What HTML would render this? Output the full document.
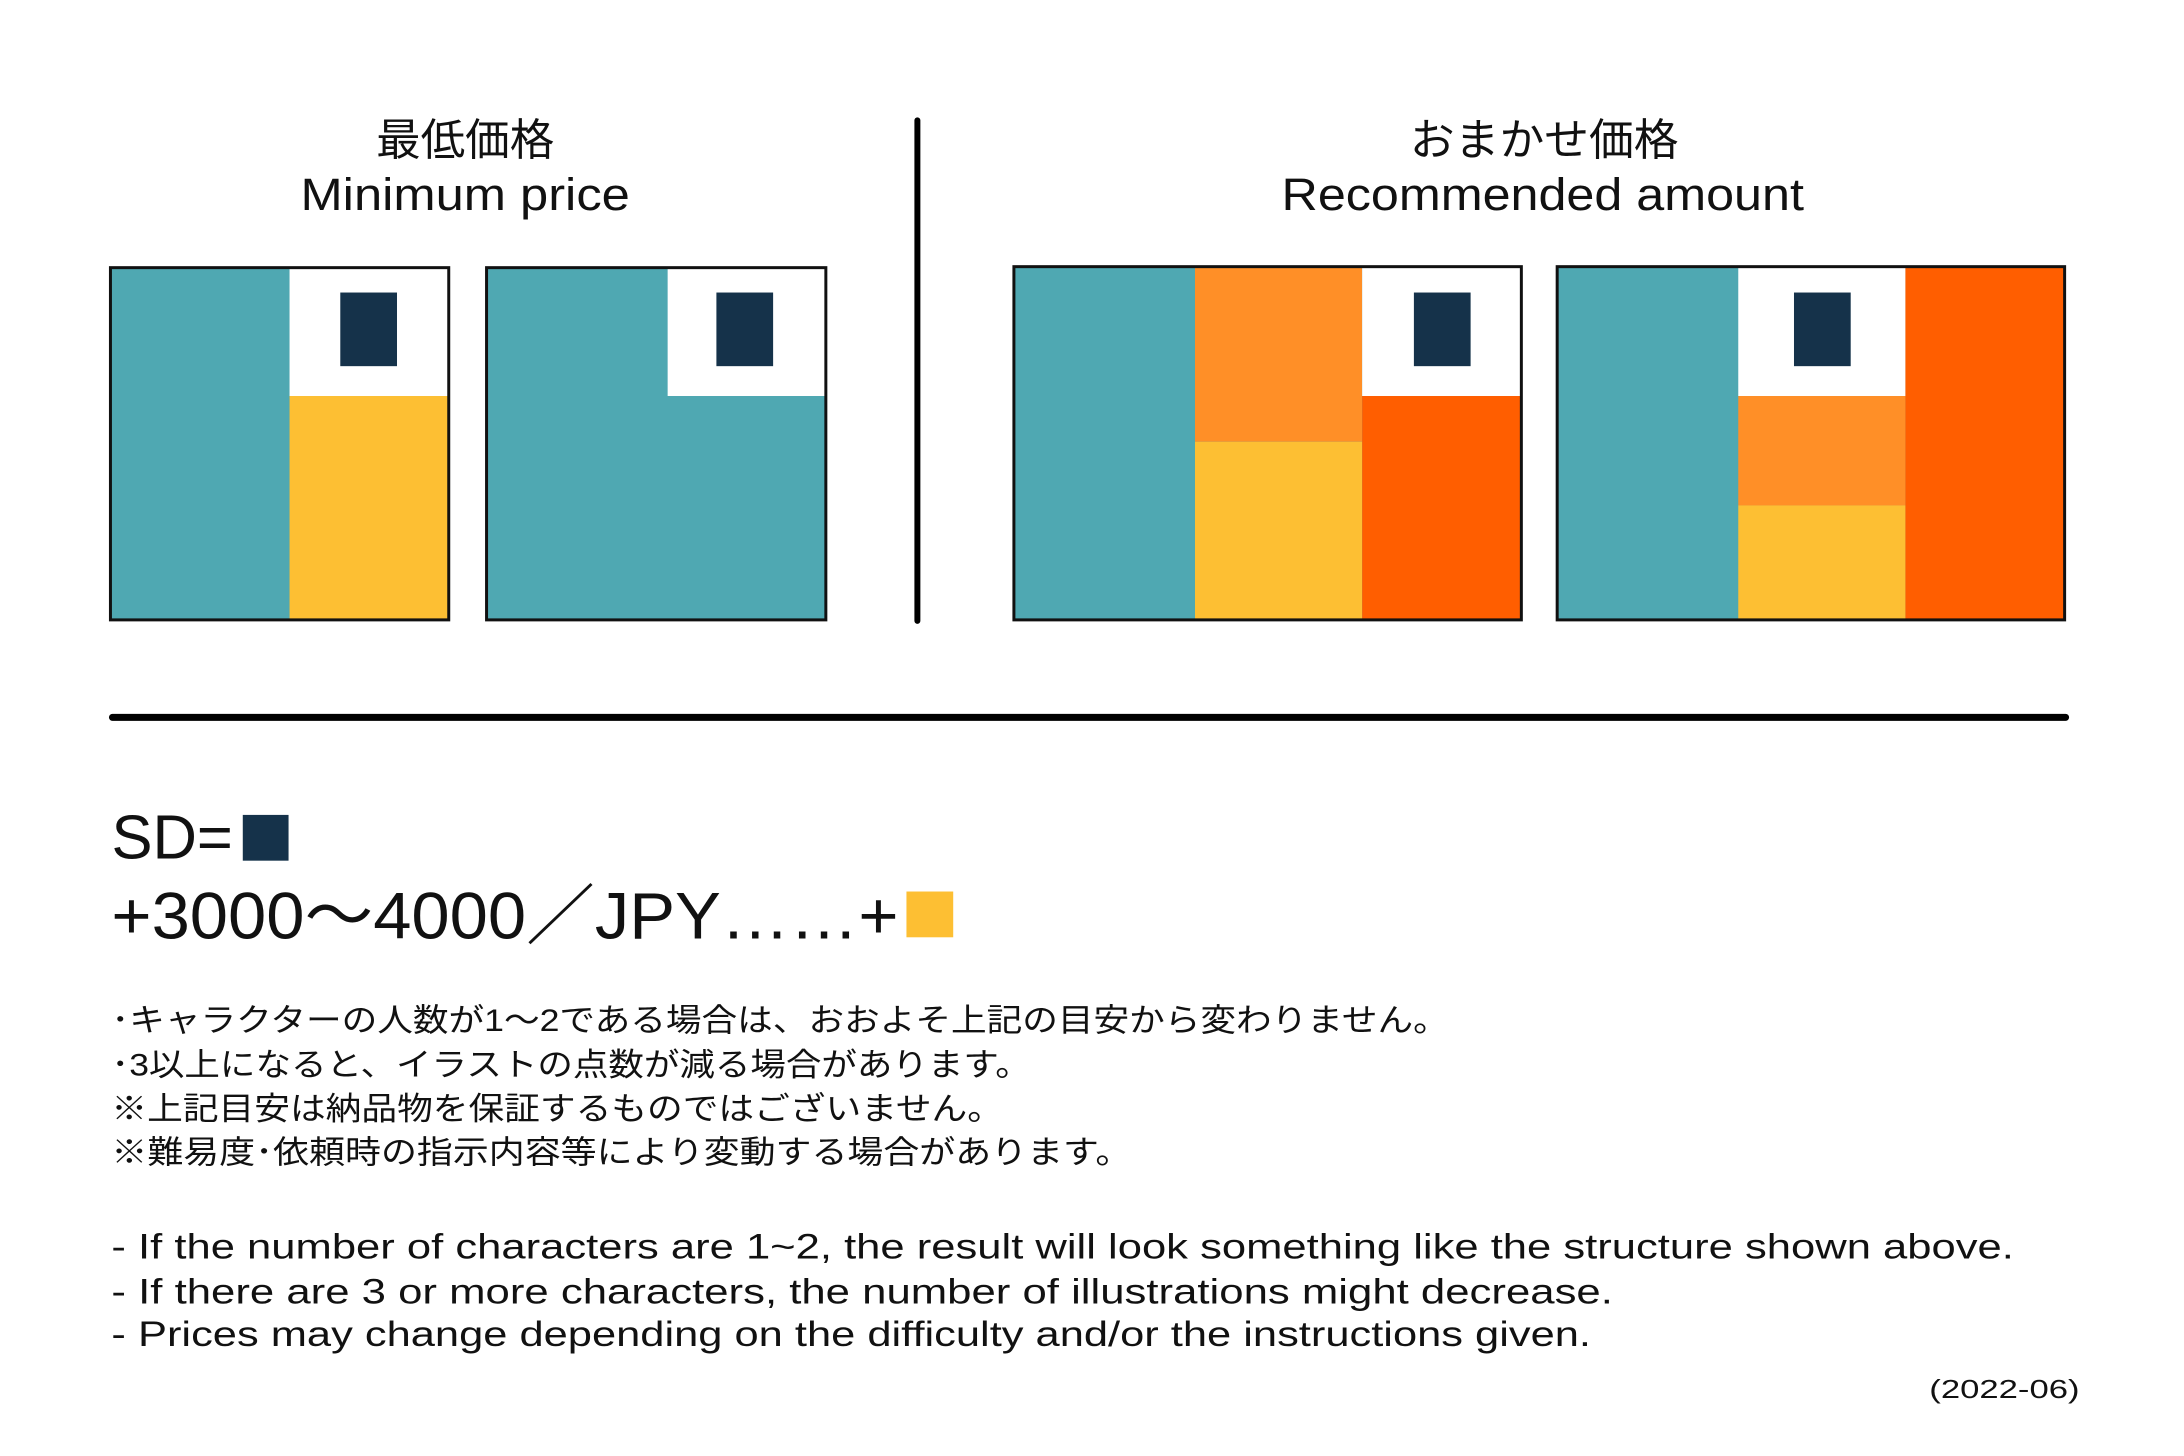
<!DOCTYPE html>
<html><head><meta charset="utf-8"><style>html,body{margin:0;padding:0;background:#fff}svg{display:block}</style></head><body>
<svg width="2184" height="1456" viewBox="0 0 2184 1456" xmlns="http://www.w3.org/2000/svg" font-family="'Liberation Sans','Noto Sans CJK JP',sans-serif" fill="#111">
<rect width="2184" height="1456" fill="#fff"/>
<g transform="scale(0.995)">
<text x="378" y="156" font-size="44" textLength="179" lengthAdjust="spacingAndGlyphs">最低価格</text>
<text x="302" y="211" font-size="46" textLength="331" lengthAdjust="spacingAndGlyphs">Minimum price</text>
<text x="1417" y="156" font-size="44" textLength="270" lengthAdjust="spacingAndGlyphs">おまかせ価格</text>
<text x="1288" y="211" font-size="46" textLength="525" lengthAdjust="spacingAndGlyphs">Recommended amount</text>
<line x1="922" y1="121" x2="922" y2="624" stroke="#000" stroke-width="6" stroke-linecap="round"/>
<rect x="111" y="269" width="340" height="354" fill="#4FA8B2"/>
<rect x="291" y="269" width="160" height="129" fill="#fff"/>
<rect x="291" y="398" width="160" height="225" fill="#FDBF33"/>
<rect x="342" y="294" width="57" height="74" fill="#15324A"/>
<rect x="111" y="269" width="340" height="354" fill="none" stroke="#111" stroke-width="3"/>
<rect x="489" y="269" width="341" height="354" fill="#4FA8B2"/>
<rect x="671" y="269" width="159" height="129" fill="#fff"/>
<rect x="720" y="294" width="57" height="74" fill="#15324A"/>
<rect x="489" y="269" width="341" height="354" fill="none" stroke="#111" stroke-width="3"/>
<rect x="1019" y="268" width="510" height="355" fill="#4FA8B2"/>
<rect x="1201" y="268" width="168" height="176" fill="#FF8F27"/>
<rect x="1201" y="444" width="168" height="179" fill="#FDBF33"/>
<rect x="1369" y="268" width="160" height="130" fill="#fff"/>
<rect x="1369" y="398" width="160" height="225" fill="#FF5E00"/>
<rect x="1421" y="294" width="57" height="74" fill="#15324A"/>
<rect x="1019" y="268" width="510" height="355" fill="none" stroke="#111" stroke-width="3"/>
<rect x="1565" y="268" width="510" height="355" fill="#4FA8B2"/>
<rect x="1747" y="268" width="168" height="130" fill="#fff"/>
<rect x="1747" y="398" width="168" height="110" fill="#FF8F27"/>
<rect x="1747" y="508" width="168" height="115" fill="#FDBF33"/>
<rect x="1915" y="268" width="160" height="355" fill="#FF5E00"/>
<rect x="1803" y="294" width="57" height="74" fill="#15324A"/>
<rect x="1565" y="268" width="510" height="355" fill="none" stroke="#111" stroke-width="3"/>
<line x1="113" y1="721" x2="2076" y2="721" stroke="#000" stroke-width="7" stroke-linecap="round"/>
<text x="112" y="863" font-size="62" textLength="122" lengthAdjust="spacingAndGlyphs">SD=</text>
<rect x="244" y="819" width="46" height="46" fill="#15324A"/>
<text x="112" y="943" font-size="66" textLength="791" lengthAdjust="spacingAndGlyphs">+3000〜4000／JPY……+</text>
<rect x="911" y="896" width="47" height="46" fill="#FDBF33"/>
<g font-size="32">
<text x="112" y="1036" textLength="1344" lengthAdjust="spacingAndGlyphs">･キャラクターの人数が1～2である場合は、おおよそ上記の目安から変わりません。</text>
<text x="112" y="1081" textLength="924" lengthAdjust="spacingAndGlyphs">･3以上になると、イラストの点数が減る場合があります。</text>
<text x="112" y="1125" textLength="896" lengthAdjust="spacingAndGlyphs">※上記目安は納品物を保証するものではございません。</text>
<text x="112" y="1169" textLength="1025" lengthAdjust="spacingAndGlyphs">※難易度･依頼時の指示内容等により変動する場合があります。</text>
</g>
<g font-size="35">
<text x="112" y="1265" textLength="1912" lengthAdjust="spacingAndGlyphs">-  If  the  number  of  characters  are  1~2,  the  result  will  look  something  like  the  structure  shown  above.</text>
<text x="112" y="1310" textLength="1509" lengthAdjust="spacingAndGlyphs">-  If  there  are  3  or  more  characters,  the  number  of  illustrations  might  decrease.</text>
<text x="112" y="1353" textLength="1487" lengthAdjust="spacingAndGlyphs">-  Prices  may  change  depending  on  the  difficulty  and/or  the  instructions  given.</text>
</g>
<text x="1939" y="1405" font-size="26" textLength="151" lengthAdjust="spacingAndGlyphs">(2022-06)</text>
</g>
</svg>
</body></html>
